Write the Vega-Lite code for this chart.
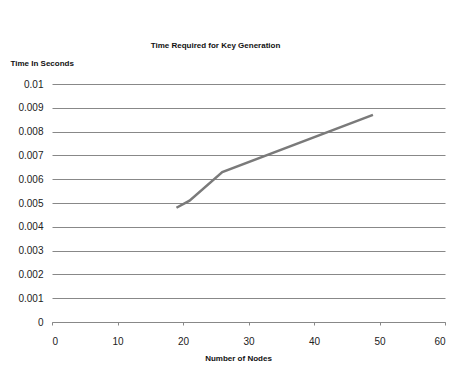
{
  "$schema": "https://vega.github.io/schema/vega-lite/v6.json",
  "autosize": {"type": "none"},
  "padding": {"left": 52, "top": 84, "right": 26, "bottom": 44},
  "width": 393,
  "height": 238,
  "background": "white",
  "title": {
    "text": "Time Required for Key Generation",
    "font": "Liberation Sans",
    "fontSize": 8,
    "fontWeight": "bold",
    "color": "#111",
    "anchor": "middle",
    "dx": -33,
    "offset": 9
  },
  "data": {
    "values": [
      {"nodes": 19, "time": 0.0048},
      {"nodes": 21, "time": 0.0051},
      {"nodes": 26, "time": 0.0063},
      {"nodes": 49, "time": 0.0087}
    ]
  },
  "mark": {"type": "line", "color": "#7a7a7a", "strokeWidth": 2.5},
  "encoding": {
    "x": {
      "field": "nodes",
      "type": "quantitative",
      "scale": {"domain": [0, 60], "nice": false},
      "axis": {
        "title": "Number of Nodes",
        "values": [0, 10, 20, 30, 40, 50, 60],
        "grid": false,
        "domainColor": "#888",
        "tickColor": "#888",
        "tickSize": 3,
        "labelPadding": 11,
        "labelFont": "Liberation Sans",
        "labelFontSize": 10,
        "labelColor": "#222",
        "titleFont": "Liberation Sans",
        "titleFontSize": 8,
        "titleFontWeight": "bold",
        "titleColor": "#111",
        "titleX": 186,
        "titleY": 36,
        "titleBaseline": "middle"
      }
    },
    "y": {
      "field": "time",
      "type": "quantitative",
      "scale": {"domain": [0, 0.01], "nice": false},
      "axis": {
        "title": "Time In Seconds",
        "values": [0, 0.001, 0.002, 0.003, 0.004, 0.005, 0.006, 0.007, 0.008, 0.009, 0.01],
        "format": ".3~f",
        "grid": true,
        "gridColor": "#888",
        "gridWidth": 1,
        "domain": false,
        "ticks": false,
        "labelPadding": 9,
        "labelFont": "Liberation Sans",
        "labelFontSize": 10,
        "labelColor": "#222",
        "titleFont": "Liberation Sans",
        "titleFontSize": 8,
        "titleFontWeight": "bold",
        "titleColor": "#111",
        "titleAngle": 0,
        "titleAlign": "left",
        "titleBaseline": "middle",
        "titleX": -42,
        "titleY": -21
      }
    }
  },
  "config": {"view": {"stroke": null}}
}
